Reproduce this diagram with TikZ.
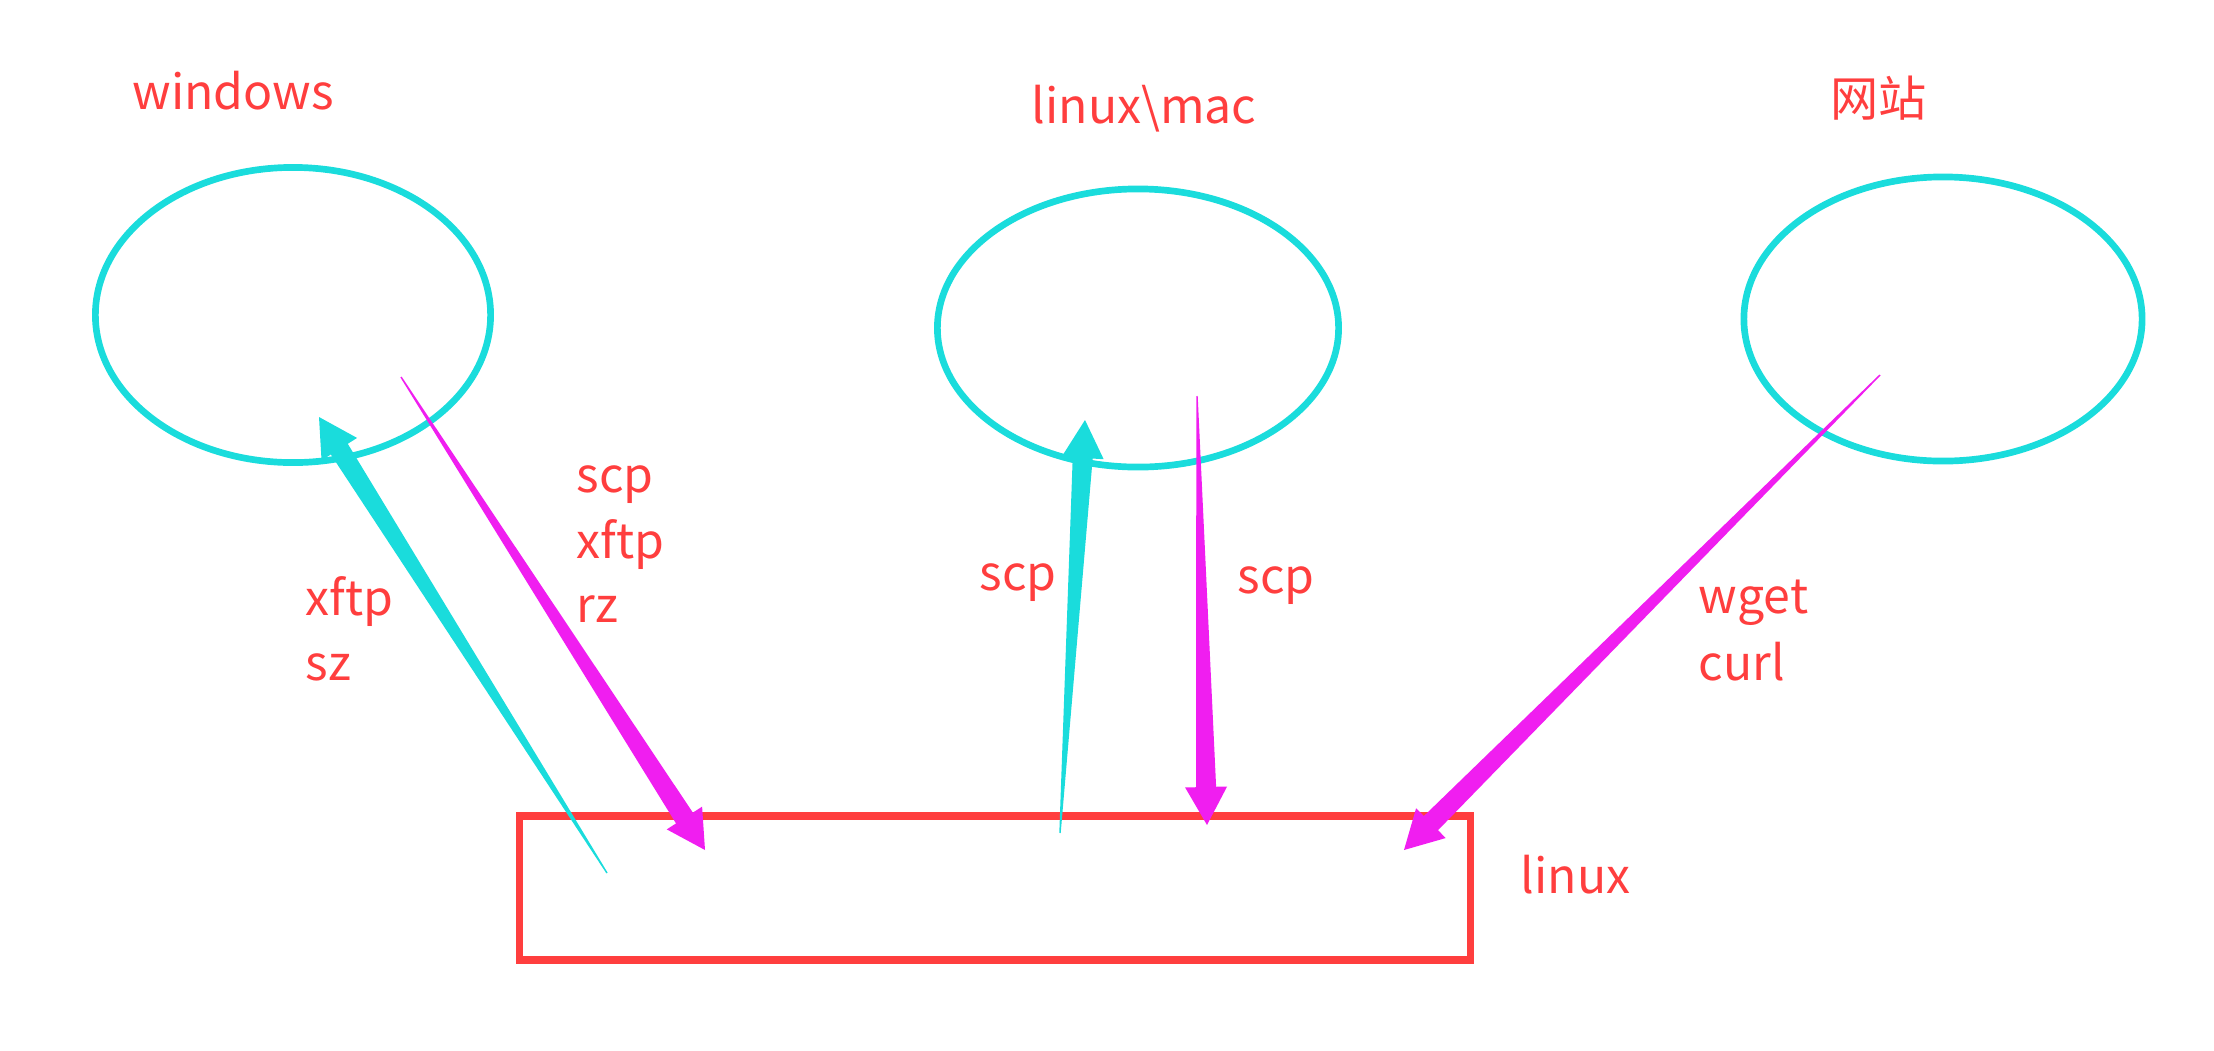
\documentclass[tikz,border=0pt]{standalone}
\usepackage{fontspec}
\setmainfont{Noto Sans CJK SC}
\usetikzlibrary{calc,shapes.geometric}
\definecolor{tcyan}{RGB}{26,220,220}
\definecolor{tmag}{RGB}{240,30,240}
\definecolor{tred}{RGB}{255,62,62}
\newcommand{\taper}[3]{%
  \path ($(#3)!0.38cm!(#2)$) coordinate (hb);
  \fill[#1] ($(#2)!0.2pt!90:(#3)$) -- ($(hb)!0.1cm!90:(#3)$) -- ($(hb)!0.21cm!90:(#3)$) -- (#3)
    -- ($(hb)!0.21cm!-90:(#3)$) -- ($(hb)!0.1cm!-90:(#3)$) -- ($(#2)!0.2pt!-90:(#3)$) -- cycle;
}
\begin{document}
\begin{tikzpicture}[x=0.01cm,y=-0.01cm,
  host/.style={ellipse,draw=tcyan,line width=1.9pt,inner sep=0pt},
  box/.style={rectangle,draw=tred,line width=2.1pt,inner sep=0pt},
  lbl/.style={anchor=base west,inner sep=0pt,text=tred,font=\fontsize{13.7pt}{18pt}\selectfont}]
\useasboundingbox (0,0) rectangle (2214,1051);
% hosts
\node[host,minimum width=3.95cm,minimum height=2.95cm] (win) at (293,315) {};
\node[host,minimum width=4.01cm,minimum height=2.78cm] (mac) at (1138,328) {};
\node[host,minimum width=3.98cm,minimum height=2.84cm] (web) at (1943,319) {};
\node[box,minimum width=9.50cm,minimum height=1.44cm] (lin) at (995,888) {};
% labels
\node[lbl] (twin) at (132,109) {windows};
\node[lbl] (tmac) at (1031,123) {linux\textbackslash mac};
\node[lbl] (tweb) at (1830,116) {网站};
\node[lbl] (tlin) at (1520,893) {linux};
\node[lbl] (u1) at (576,492) {scp};
\node[lbl] (u2) at (576,558) {xftp};
\node[lbl] (u3) at (576,622) {rz};
\node[lbl] (d1) at (305,615) {xftp};
\node[lbl] (d2) at (305,680) {sz};
\node[lbl] (m1) at (979,590) {scp};
\node[lbl] (m2) at (1237,593) {scp};
\node[lbl] (w1) at (1698,613) {wget};
\node[lbl] (w2) at (1698,680) {curl};
% connector ends
\coordinate (a1t) at (607,873); \coordinate (a1h) at (319,417);
\coordinate (a2t) at (401,377); \coordinate (a2h) at (705,850);
\coordinate (a3t) at (1060,833); \coordinate (a3h) at (1085,420);
\coordinate (a4t) at (1197,396); \coordinate (a4h) at (1207,825);
\coordinate (a5t) at (1880,375); \coordinate (a5h) at (1404,850);
\taper{tcyan}{a1t}{a1h}
\taper{tmag}{a2t}{a2h}
\taper{tcyan}{a3t}{a3h}
\taper{tmag}{a4t}{a4h}
\taper{tmag}{a5t}{a5h}
\end{tikzpicture}
\end{document}
